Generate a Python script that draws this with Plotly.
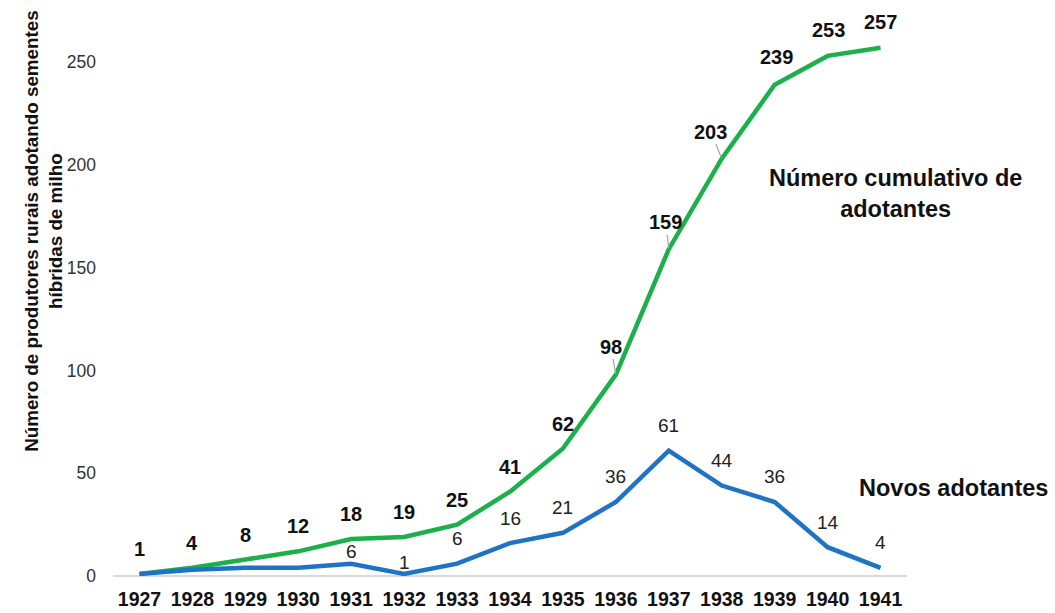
import plotly.graph_objects as go

# Adoption of hybrid corn seed, 1927-1941
years = ["1927", "1928", "1929", "1930", "1931", "1932", "1933", "1934",
         "1935", "1936", "1937", "1938", "1939", "1940", "1941"]
cumulative = [1, 4, 8, 12, 18, 19, 25, 41, 62, 98, 159, 203, 239, 253, 257]
new_adopters = [1, 3, 4, 4, 6, 1, 6, 16, 21, 36, 61, 44, 36, 14, 4]

# years whose "new adopters" value gets a label
new_labelled = ["1931", "1932", "1933", "1934", "1935", "1936", "1937",
                "1938", "1939", "1940", "1941"]

GREEN = "#1bb04a"
BLUE = "#1f73c4"
FONT = "Liberation Sans, Arial, sans-serif"

# label placement (pixel offsets from each point)
cum_shift = {"1939": (2, 28), "1940": (1, 26), "1941": (0, 26)}
cum_leader = {"1936": (-5, -28), "1937": (-3, -27), "1938": (-11, -27)}
new_shift = {"1931": (0, 12), "1932": (0, 11)}

fig = go.Figure()
fig.add_trace(go.Scatter(x=years, y=cumulative, mode="lines",
                         line=dict(color=GREEN, width=4.5), hoverinfo="skip"))
fig.add_trace(go.Scatter(x=years, y=new_adopters, mode="lines",
                         line=dict(color=BLUE, width=4.5), hoverinfo="skip"))

ann = []
# on a category axis annotations are placed by category index
for i, (yr, v) in enumerate(zip(years, cumulative)):
    font = dict(family=FONT, size=20, color="#111111")
    if yr in cum_leader:
        ax, ay = cum_leader[yr]
        ann.append(dict(x=i, y=v, text="<b>%d</b>" % v, showarrow=True,
                        arrowhead=0, arrowwidth=1.2, arrowcolor="#a6a6a6",
                        ax=ax, ay=ay, standoff=1, font=font))
    else:
        dx, dy = cum_shift.get(yr, (0, 25))
        ann.append(dict(x=i, y=v, text="<b>%d</b>" % v, showarrow=False,
                        xshift=dx, yshift=dy, font=font))

for i, (yr, v) in enumerate(zip(years, new_adopters)):
    if yr not in new_labelled:
        continue
    dx, dy = new_shift.get(yr, (0, 25))
    ann.append(dict(x=i, y=v, text=str(v), showarrow=False,
                    xshift=dx, yshift=dy,
                    font=dict(family=FONT, size=19, color="#222222")))

ann.append(dict(xref="paper", yref="paper", x=0.985, y=0.70,
                text="<b>Número cumulativo de<br>adotantes</b>", showarrow=False,
                align="center", xanchor="center", yanchor="middle",
                font=dict(family=FONT, size=23.5, color="#111111")))
ann.append(dict(xref="paper", yref="paper", x=1.058, y=0.161,
                text="<b>Novos adotantes</b>", showarrow=False,
                xanchor="center", yanchor="middle",
                font=dict(family=FONT, size=23.5, color="#111111")))
ann.append(dict(xref="paper", yref="paper", x=-0.087, y=0.632,
                text="<b>Número de produtores rurais adotando sementes<br>híbridas de milho</b>",
                showarrow=False, textangle=-90, align="center",
                xanchor="center", yanchor="middle",
                font=dict(family=FONT, size=18.8, color="#111111")))

fig.update_layout(
    width=1055, height=613,
    margin=dict(l=113, r=148, t=30, b=37),
    paper_bgcolor="white", plot_bgcolor="white",
    showlegend=False,
    annotations=ann,
    xaxis=dict(type="category", range=[-0.5, 14.5], showgrid=False,
               showline=False, zeroline=False, ticks="", automargin=False,
               ticklabelstandoff=9,
               tickfont=dict(family=FONT, size=19.5, color="#111111"),
               tickprefix="<b>", ticksuffix="</b>"),
    yaxis=dict(range=[0, 265.6], tickvals=[0, 50, 100, 150, 200, 250],
               showgrid=False, zeroline=True, zerolinecolor="#d9d9d9",
               zerolinewidth=1.5, showline=False, ticks="", automargin=False,
               ticklabelstandoff=16,
               tickfont=dict(family=FONT, size=17.5, color="#333333")),
)

fig.write_html("out.html")
